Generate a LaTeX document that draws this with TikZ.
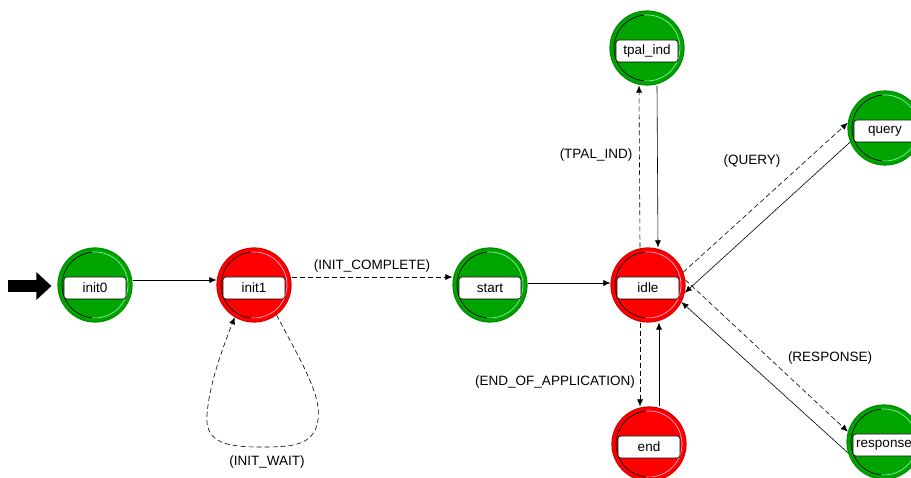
\documentclass[tikz,border=0pt]{standalone}
\usepackage{fontspec}
\setmainfont{Liberation Sans}
\usetikzlibrary{arrows.meta,calc}

\definecolor{stgreen}{RGB}{0,165,0}
\definecolor{stgreenhi}{RGB}{140,235,170}
\definecolor{stred}{RGB}{255,0,0}
\definecolor{stredhi}{RGB}{255,170,220}

\tikzset{
  lblfont/.style={font=\fontsize{13.5}{16}\selectfont},
  statecirc/.style={circle, minimum size=74pt, inner sep=0pt, line width=1.2pt},
  statelabel/.style={lblfont, draw=black, fill=white, rounded corners=3pt,
    minimum width=62pt, minimum height=22pt, inner sep=1.5pt, line width=0.6pt},
  tip/.style={-{Latex[length=7pt,width=6pt]}},
  solidedge/.style={tip, draw=black, line width=0.6pt},
  dashededge/.style={tip, draw=black, line width=0.6pt, dash pattern=on 5pt off 3pt},
  edgelabel/.style={lblfont, inner sep=1pt},
}

% #1 node name, #2 position, #3 fill colour, #4 highlight colour, #5 text
\newcommand{\fsmstate}[5]{%
  \node[statecirc, fill=#3, draw=#3!85!black] (#1) at (#2) {};
  \draw[black, line width=0.7pt] (#1.center) ++(95:33) arc[start angle=95, end angle=265, radius=33];
  \draw[#4, line width=0.7pt] (#1.center) ++(265:33) arc[start angle=265, end angle=455, radius=33];
  \node[statelabel] (#1-lbl) at ([yshift=-3pt]#1.center) {#5};
}

\begin{document}
\begin{tikzpicture}[x=1pt, y=-1pt]
\useasboundingbox (0,0) rectangle (911,478);

% states
\fsmstate{init0}{95,285}{stgreen}{stgreenhi}{init0}
\fsmstate{init1}{254,285}{stred}{stredhi}{init1}
\fsmstate{start}{490,285}{stgreen}{stgreenhi}{start}
\fsmstate{idle}{648,285}{stred}{stredhi}{idle}
\fsmstate{tpal}{647,48}{stgreen}{stgreenhi}{tpal\_ind}
\fsmstate{query}{885,128}{stgreen}{stgreenhi}{query}
\fsmstate{response}{884,442}{stgreen}{stgreenhi}{response}
\fsmstate{end}{649,444}{stred}{stredhi}{end}

% initial-state marker
\coordinate (entry) at (8,286);
\draw[line width=12pt, line cap=butt, -{Triangle[length=15pt,width=27pt]}]
  (entry) -- ([xshift=-6pt,yshift=-1pt]init0.west);

% transitions
\draw[solidedge] ([yshift=5pt]init0.east) -- ([yshift=5pt]init1.west);
\draw[dashededge] ([yshift=8pt]init1.east) -- ([yshift=8pt]start.west)
  node[edgelabel, midway, above=3pt] {(INIT\_COMPLETE)};
\draw[solidedge] ([yshift=2pt]start.east) -- ([yshift=2pt]idle.west);

\draw[dashededge] (init1.307) .. controls (300,360) and (322,395) .. (318,420)
  .. controls (314,447) and (290,447) .. (258,447)
  .. controls (222,447) and (205,440) .. (207,415)
  .. controls (209,385) and (222,350) .. (init1.239);
\node[edgelabel] (lblwait) at (267,462) {(INIT\_WAIT)};

\draw[dashededge] ([xshift=-8pt]idle.north) -- ([xshift=-8pt]tpal.south);
\draw[solidedge] ([xshift=10pt]tpal.south) -- ([xshift=10pt]idle.north);
\node[edgelabel] (lbltpal) at (596,155) {(TPAL\_IND)};

\draw[dashededge] ([xshift=-8pt]idle.south) -- ([xshift=-9pt]end.north);
\draw[solidedge] ([xshift=10pt]end.north) -- ([xshift=11pt]idle.south);
\node[edgelabel] (lblend) at (555,382) {(END\_OF\_APPLICATION)};

\draw[dashededge] (idle.20) -- (query.172);
\draw[solidedge] (query.202) -- (idle.-12);
\node[edgelabel] (lblquery) at (752,161) {(QUERY)};

\draw[dashededge] (idle.8) -- (response.164);
\draw[solidedge] (response.197) -- (idle.-27);
\node[edgelabel] (lblresp) at (830,358) {(RESPONSE)};

\end{tikzpicture}
\end{document}
